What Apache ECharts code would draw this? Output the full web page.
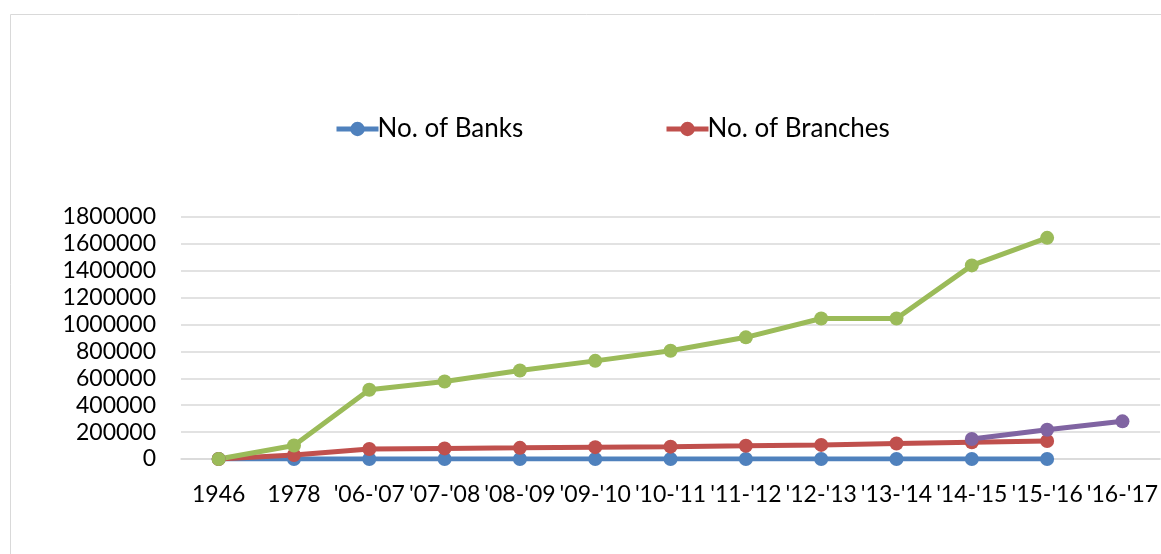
<!DOCTYPE html>
<html>
<head>
<meta charset="utf-8">
<script src="https://cdn.jsdelivr.net/npm/echarts@6/dist/echarts.min.js"></script>
<style>
html,body{margin:0;padding:0;background:#fff;}
#chart{width:1161px;height:554px;}
</style>
</head>
<body>
<div id="chart"></div>
<script>
const categories = ["1946","1978","'06-'07","'07-'08","'08-'09","'09-'10","'10-'11","'11-'12","'12-'13","'13-'14","'14-'15","'15-'16","'16-'17"];
const yTicks = [0,200000,400000,600000,800000,1000000,1200000,1400000,1600000,1800000];
const banks = [650, 300, 180, 170, 170, 165, 165, 170, 155, 150, 150, 150, null];
const branches = [0, 30000, 74000, 79000, 83000, 88000, 92000, 98000, 105000, 115000, 125000, 134000, null];
const series3 = [0, 100000, 515000, 577000, 658000, 730000, 805000, 905000, 1045000, 1045000, 1440000, 1645000, null];
const series4 = [null, null, null, null, null, null, null, null, null, null, 149000, 218000, 280000];

const FONT = 'Lato';
const chart = echarts.init(document.getElementById('chart'));
const mk = (name, data, color) => ({
  name, type: 'line', data, color,
  symbol: 'circle', symbolSize: 14,
  lineStyle: {width: 5, color},
  itemStyle: {color},
  connectNulls: false,
  animation: false
});
const legendCommon = {
  top: 111, itemWidth: 42, itemHeight: 18, itemGap: 0,
  lineStyle: {width: 5},
  textStyle: {fontFamily: FONT, fontSize: 26, color: '#000', padding: [0, 0, 0, -6]}
};
chart.setOption({
  animation: false,
  textStyle: {fontFamily: FONT},
  graphic: [{
    type: 'rect', silent: true,
    shape: {x: 10.5, y: 14.5, width: 1300, height: 700},
    style: {fill: 'none', stroke: '#d9d9d9', lineWidth: 1}
  }],
  legend: [
    Object.assign({data: ['No. of Banks'], left: 329}, legendCommon),
    Object.assign({data: ['No. of Branches'], left: 659}, legendCommon)
  ],
  grid: {left: 181, top: 217, width: 981.5, bottom: 95, containLabel: false},
  xAxis: {
    type: 'category', data: categories, boundaryGap: true,
    axisLine: {show: true, lineStyle: {color: '#d9d9d9', width: 1.5}},
    axisTick: {show: false},
    axisLabel: {interval: 0, margin: 24, fontFamily: FONT, fontSize: 23, color: '#000', hideOverlap: false}
  },
  yAxis: {
    type: 'value', min: 0, max: 1800000, interval: 200000,
    axisLine: {show: false}, axisTick: {show: false},
    splitLine: {lineStyle: {color: '#d9d9d9', width: 1.5}},
    axisLabel: {margin: 25, fontFamily: FONT, fontSize: 23, color: '#000',
      customValues: yTicks, formatter: v => String(v)}
  },
  series: [
    mk('No. of Banks', banks, '#4F81BD'),
    mk('No. of Branches', branches, '#C0504D'),
    mk('Series 3', series3, '#9BBB59'),
    mk('Series 4', series4, '#8064A2')
  ]
});
</script>
</body>
</html>
